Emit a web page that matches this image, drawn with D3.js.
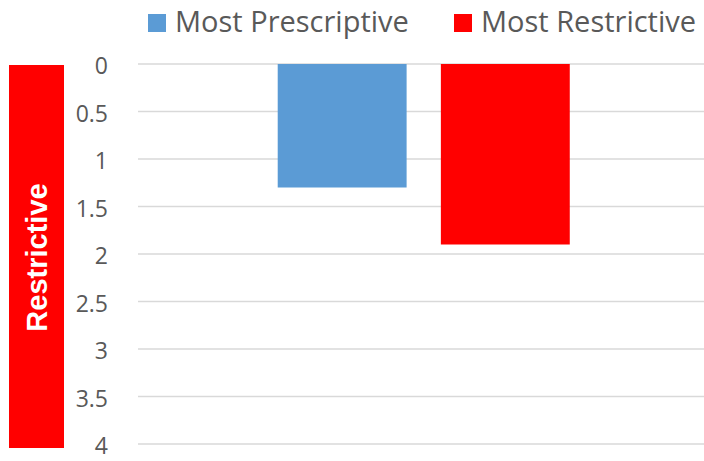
<!DOCTYPE html>
<html>
<head>
<meta charset="utf-8">
<script src="https://cdn.jsdelivr.net/npm/d3@7/dist/d3.min.js"></script>
<style>
  html, body { margin: 0; padding: 0; background: #fff; }
  svg { display: block; }
</style>
</head>
<body>
<svg id="chart" width="704" height="461"></svg>
<script>
// Data
const categories = [""];
const seriesNames = ["Most Prescriptive", "Most Restrictive"];
const seriesValues = [1.3, 1.9];
const seriesColors = ["#5b9bd5", "#ff0000"];
const tickValues = [0, 0.5, 1, 1.5, 2, 2.5, 3, 3.5, 4];
const tickLabels = ["0", "0.5", "1", "1.5", "2", "2.5", "3", "3.5", "4"];
const sideLabel = "Restrictive";

const svg = d3.select("#chart");
const plot = { left: 138, right: 704, top: 64, bottom: 444 };

// Reversed value axis: 0 at top, 4 at bottom
const y = d3.scaleLinear().domain([0, 4]).range([plot.top, plot.bottom]);

const x0 = d3.scaleBand().domain(categories)
  .range([plot.left, plot.right])
  .paddingInner(0).paddingOuter(0.469).align(0.51);
const x1 = d3.scaleBand().domain(seriesNames)
  .range([0, x0.bandwidth()])
  .paddingInner(0.21).paddingOuter(0);

// Gridlines
svg.append("g")
  .selectAll("line")
  .data(tickValues)
  .join("line")
  .attr("x1", plot.left).attr("x2", plot.right)
  .attr("y1", d => y(d)).attr("y2", d => y(d))
  .attr("stroke", "#d9d9d9")
  .attr("stroke-width", 1.5);

// Tick labels
svg.append("g")
  .selectAll("text")
  .data(tickValues)
  .join("text")
  .attr("x", 108)
  .attr("y", d => y(d) + 10)
  .attr("text-anchor", "end")
  .attr("font-family", "'Open Sans', sans-serif")
  .attr("font-size", 23)
  .attr("fill", "#595959")
  .text((d, i) => tickLabels[i]);

// Bars (hanging down from 0)
const group = svg.append("g")
  .selectAll("g")
  .data(categories)
  .join("g")
  .attr("transform", d => `translate(${x0(d)},0)`);

group.selectAll("rect")
  .data(() => seriesNames.map((name, i) => ({ name, value: seriesValues[i], color: seriesColors[i] })))
  .join("rect")
  .attr("x", d => x1(d.name))
  .attr("width", x1.bandwidth())
  .attr("y", y(0))
  .attr("height", d => y(d.value) - y(0))
  .attr("fill", d => d.color);

// Side label box
svg.append("rect")
  .attr("x", 9).attr("y", 65)
  .attr("width", 55).attr("height", 383)
  .attr("fill", "#ff0000");
svg.append("text")
  .attr("transform", "translate(47,257.5) rotate(-90)")
  .attr("text-anchor", "middle")
  .attr("font-family", "'Liberation Sans', Arial, sans-serif")
  .attr("font-weight", "bold")
  .attr("font-size", 29)
  .attr("fill", "#ffffff")
  .text(sideLabel);

// Legend
const legendX = [148, 454];
const legend = svg.append("g")
  .selectAll("g")
  .data(seriesNames)
  .join("g")
  .attr("transform", (d, i) => `translate(${legendX[i]},0)`);
legend.append("rect")
  .attr("x", 0).attr("y", 14)
  .attr("width", 18).attr("height", 18)
  .attr("fill", (d, i) => seriesColors[i]);
legend.append("text")
  .attr("x", 27).attr("y", 32)
  .attr("font-family", "'Open Sans', sans-serif")
  .attr("font-size", 29)
  .attr("fill", "#595959")
  .text(d => d);
</script>
</body>
</html>
